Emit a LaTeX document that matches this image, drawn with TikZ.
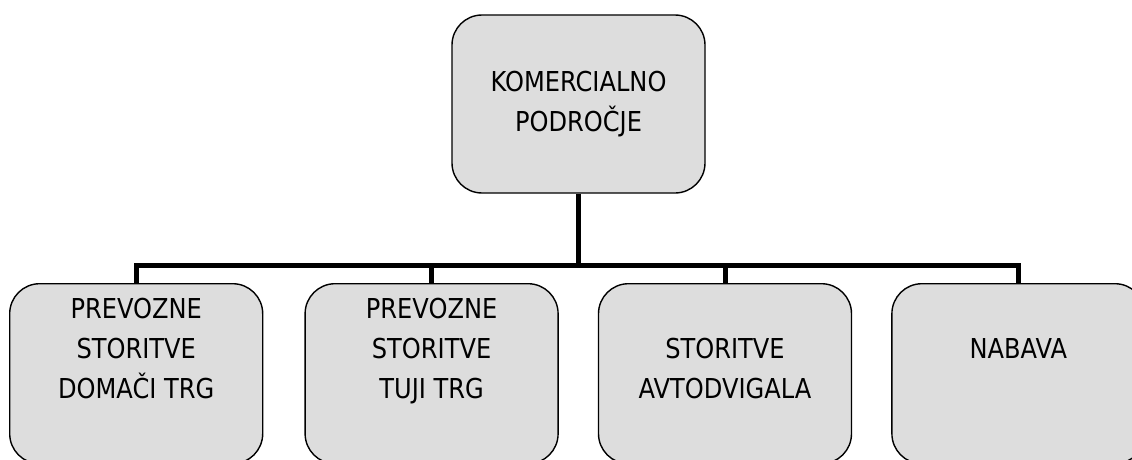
\documentclass[tikz,border=0pt]{standalone}
\usepackage{fontspec}
\setmainfont[FakeStretch=0.88]{DejaVu Sans}
\usetikzlibrary{positioning}

\definecolor{boxgray}{HTML}{DDDDDD}
\tikzset{
  unit/.style={draw=black, line width=1.4pt, fill=boxgray, rounded corners=30pt,
    minimum width=253pt, inner sep=0pt},
  lbl/.style={align=center, inner sep=0pt, anchor=north,
    font=\fontsize{27.4}{40}\selectfont},
  conn/.style={draw=black, line width=5pt}
}

\begin{document}
\begin{tikzpicture}[x=1pt, y=1pt, node distance=39pt]
			\clip (0,0) rectangle (1132,459);

			\node (komerc) [unit, minimum height=178pt, lbl, anchor=center] at (578.5,355)
				{KOMERCIALNO\\PODROČJE};

			\node (domaci) [unit, minimum height=180pt, anchor=north west] at (9,176) {};
			\node (tuji) [unit, minimum height=180pt, right=41pt of domaci] {};
			\node (avto) [unit, minimum height=180pt, right=of tuji] {};
			\node (nabava) [unit, minimum height=180pt, right=of avto] {};

			\node (domacit) [lbl] at ([yshift=-7pt]domaci.north) {\strut PREVOZNE\\STORITVE\\DOMAČI TRG};
			\node (tujit) [lbl] at ([yshift=-7pt]tuji.north) {\strut PREVOZNE\\STORITVE\\TUJI TRG};
			\node (avtot) [lbl] at ([yshift=-7pt]avto.north) {\strut\\STORITVE\\AVTODVIGALA};
			\node (nabavat) [lbl] at ([yshift=-7pt]nabava.north) {\strut\\NABAVA};

			\coordinate (bus) at ([yshift=18pt]domaci.north);

			\draw[conn] (komerc.south) -- (komerc.south |- bus);
			\draw[conn] (domaci.north) |- (bus -| nabava.north) -- (nabava.north);
			\draw[conn] (tuji.north) -- (tuji.north |- bus);
			\draw[conn] (avto.north) -- (avto.north |- bus);
		\end{tikzpicture}
\end{document}
